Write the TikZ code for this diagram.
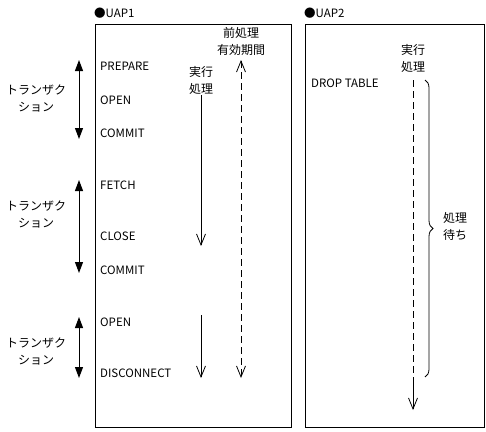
\documentclass[tikz,border=0pt]{standalone}
\usepackage{fontspec}
\setmainfont{Noto Sans CJK JP}
\usetikzlibrary{arrows.meta,decorations.pathreplacing}
\begin{document}
\begin{tikzpicture}[x=1pt,y=-1pt,
  every node/.style={inner sep=0pt,font=\fontsize{11.5}{13}\selectfont},
  lbl/.style={anchor=west},
  jlbl/.style={align=center,font=\fontsize{12}{17}\selectfont},
  frame/.style={draw,line width=0.9pt},
  txarrow/.style={line width=1pt,{Triangle[length=11pt,width=8pt]}-{Triangle[length=11pt,width=8pt]}},
  runarrow/.style={line width=0.8pt,-{Straight Barb[length=11pt,width=9pt]}},
  dsh/.style={line width=0.8pt,dash pattern=on 7pt off 4pt}]
\useasboundingbox (0,0) rectangle (486,431);
% frames
\draw[frame] (95,24) rectangle (291,427);
\draw[frame] (305,24) rectangle (484,427);
\node[anchor=west] (uap1) at (94,13) {●UAP1};
\node[anchor=west] (uap2) at (304,13) {●UAP2};
% statements
\node[lbl] (prep) at (100,66) {PREPARE};
\node[lbl] (open1) at (100,100) {OPEN};
\node[lbl] (com1) at (100,133) {COMMIT};
\node[lbl] (fetch) at (100,185) {FETCH};
\node[lbl] (close) at (100,236) {CLOSE};
\node[lbl] (com2) at (100,270) {COMMIT};
\node[lbl] (open2) at (100,322) {OPEN};
\node[lbl] (disc) at (100,373) {DISCONNECT};
\node[lbl] (drop) at (311,83) {DROP TABLE};
% transactions
\coordinate (t1a) at (79,60); \coordinate (t1b) at (79,139);
\coordinate (t2a) at (79,180); \coordinate (t2b) at (79,273);
\coordinate (t3a) at (79,317); \coordinate (t3b) at (79,378);
\draw[txarrow] (t1a) -- (t1b);
\draw[txarrow] (t2a) -- (t2b);
\draw[txarrow] (t3a) -- (t3b);
\node[jlbl] (tx1) at (36,98) {トランザク\\ション};
\node[jlbl] (tx2) at (36,214) {トランザク\\ション};
\node[jlbl] (tx3) at (36,351) {トランザク\\ション};
% UAP1 execution
\node[jlbl] (ex1) at (201,80) {実行\\処理};
\coordinate (e1a) at (201,95); \coordinate (e1b) at (201,246);
\coordinate (e2a) at (201,315); \coordinate (e2b) at (201,378);
\draw[runarrow] (e1a) -- (e1b);
\draw[runarrow] (e2a) -- (e2b);
% preprocessing validity
\node[jlbl] (pre) at (241,41) {前処理\\有効期間};
\coordinate (pa) at (241,60); \coordinate (pb) at (241,378);
\draw[dsh,{Straight Barb[length=11pt,width=9pt]}-{Straight Barb[length=11pt,width=9pt]}] (pa) -- (pb);
% UAP2 execution
\node[jlbl] (ex2) at (413,58) {実行\\処理};
\coordinate (u2a) at (413,80); \coordinate (u2m) at (413,380); \coordinate (u2b) at (413,410);
\draw[dsh] (u2a) -- (u2m);
\draw[runarrow] (u2m) -- (u2b);
% waiting brace
\coordinate (ba) at (425,80); \coordinate (bb) at (425,377);
\draw[line width=0.8pt,decorate,decoration={brace,amplitude=8pt}] (ba) -- (bb);
\node[jlbl,anchor=west] (wait) at (443,226) {処理\\待ち};
\end{tikzpicture}
\end{document}
